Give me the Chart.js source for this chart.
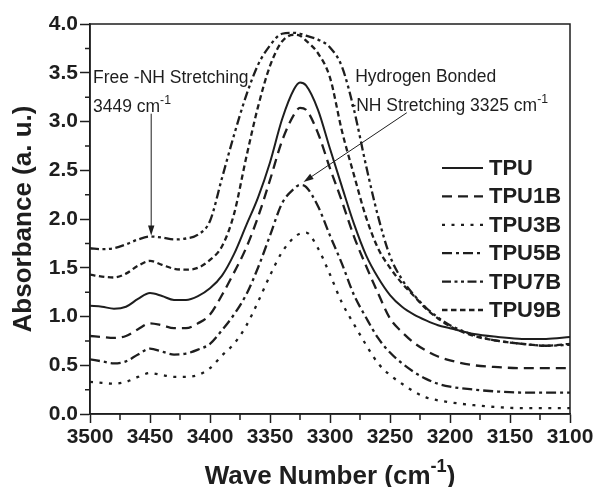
<!DOCTYPE html>
<html>
<head>
<meta charset="utf-8">
<script src="https://cdn.jsdelivr.net/npm/chart.js@4"></script>
<style>
  html, body { margin: 0; padding: 0; background: #fff; }
</style>
</head>
<body>
<canvas id="chart" width="596" height="487"></canvas>
<script>
'use strict';

// wave numbers (cm-1)
var waveNumbers = [3500, 3490, 3480, 3470, 3460, 3450, 3440, 3430, 3420, 3410, 3400, 3390, 3380, 3370, 3360, 3350, 3340, 3330, 3325,
    3320, 3310, 3300, 3290, 3280, 3270, 3260, 3250, 3240, 3230, 3220, 3210, 3200, 3180, 3160, 3140, 3120, 3100];

var tpu   = [1.11, 1.10, 1.08, 1.10, 1.18, 1.24, 1.21, 1.17, 1.17, 1.21, 1.29, 1.42, 1.64, 1.93, 2.22, 2.58, 3.02, 3.33, 3.40,
    3.37, 3.12, 2.72, 2.33, 1.95, 1.63, 1.40, 1.22, 1.10, 1.02, 0.96, 0.91, 0.88, 0.82, 0.79, 0.77, 0.77, 0.79];
var tpu1b = [0.80, 0.79, 0.78, 0.80, 0.87, 0.93, 0.91, 0.88, 0.88, 0.93, 1.02, 1.22, 1.45, 1.70, 2.02, 2.40, 2.80, 3.07, 3.14,
    3.12, 2.88, 2.52, 2.18, 1.82, 1.52, 1.24, 0.98, 0.84, 0.73, 0.65, 0.59, 0.55, 0.50, 0.48, 0.47, 0.47, 0.47];
var tpu3b = [0.33, 0.32, 0.31, 0.33, 0.38, 0.42, 0.40, 0.38, 0.38, 0.40, 0.47, 0.60, 0.72, 0.90, 1.15, 1.42, 1.66, 1.81, 1.85,
    1.86, 1.70, 1.43, 1.14, 0.92, 0.71, 0.52, 0.40, 0.31, 0.23, 0.17, 0.14, 0.12, 0.09, 0.07, 0.06, 0.06, 0.06];
var tpu5b = [0.56, 0.54, 0.52, 0.54, 0.61, 0.67, 0.64, 0.61, 0.62, 0.66, 0.72, 0.86, 1.02, 1.22, 1.50, 1.83, 2.16, 2.31, 2.35,
    2.33, 2.13, 1.83, 1.54, 1.22, 0.99, 0.78, 0.63, 0.52, 0.43, 0.36, 0.31, 0.28, 0.25, 0.23, 0.22, 0.22, 0.22];
var tpu7b = [1.70, 1.69, 1.70, 1.74, 1.79, 1.82, 1.81, 1.79, 1.80, 1.84, 1.98, 2.42, 2.86, 3.26, 3.58, 3.78, 3.90, 3.91, 3.90,
    3.88, 3.84, 3.76, 3.56, 3.12, 2.55, 2.03, 1.62, 1.38, 1.22, 1.09, 0.99, 0.91, 0.81, 0.75, 0.72, 0.70, 0.71];
var tpu9b = [1.43, 1.41, 1.40, 1.44, 1.52, 1.57, 1.53, 1.49, 1.48, 1.50, 1.58, 1.72, 2.05, 2.62, 3.15, 3.57, 3.82, 3.89, 3.88,
    3.83, 3.70, 3.45, 2.90, 2.45, 2.02, 1.70, 1.50, 1.34, 1.21, 1.08, 0.98, 0.90, 0.80, 0.75, 0.72, 0.70, 0.72];

var seriesNames = ['TPU', 'TPU1B', 'TPU3B', 'TPU5B', 'TPU7B', 'TPU9B'];
var seriesValues = [tpu, tpu1b, tpu3b, tpu5b, tpu7b, tpu9b];
var seriesDash = [[], [10, 6], [3, 6.5], [10, 4, 3, 4], [9, 3.5, 3, 3.5, 3, 3.5], [5.5, 3.5]];

var ink = '#1e1e1e';
var fontFamily = '"Liberation Sans", Arial, Helvetica, sans-serif';
Chart.defaults.font.family = fontFamily;
Chart.defaults.color = ink;

function isMajor(v, step) {
    var r = v / step;
    return Math.abs(r - Math.round(r)) < 1e-6;
}

function drawParts(ctx, parts, x, y, size, align) {
    // draws text with superscripts, parts = [[text, isSup, weight], ...]
    var w = 0;
    parts.forEach(function (p) {
        ctx.font = (p[2] || '') + ' ' + (p[1] ? size * 0.7 : size) + 'px ' + fontFamily;
        w += ctx.measureText(p[0]).width;
    });
    var cx = align === 'center' ? x - w / 2 : x;
    parts.forEach(function (p) {
        ctx.font = (p[2] || '') + ' ' + (p[1] ? size * 0.7 : size) + 'px ' + fontFamily;
        ctx.fillText(p[0], cx, p[1] ? y - size * 0.45 : y);
        cx += ctx.measureText(p[0]).width;
    });
}

function arrow(ctx, x1, y1, x2, y2) {
    var ang = Math.atan2(y2 - y1, x2 - x1);
    ctx.beginPath();
    ctx.moveTo(x1, y1);
    ctx.lineTo(x2 - Math.cos(ang) * 6, y2 - Math.sin(ang) * 6);
    ctx.stroke();
    ctx.beginPath();
    ctx.moveTo(x2, y2);
    ctx.lineTo(x2 - Math.cos(ang) * 10 + Math.sin(ang) * 3.2, y2 - Math.sin(ang) * 10 - Math.cos(ang) * 3.2);
    ctx.lineTo(x2 - Math.cos(ang) * 10 - Math.sin(ang) * 3.2, y2 - Math.sin(ang) * 10 + Math.cos(ang) * 3.2);
    ctx.closePath();
    ctx.fill();
}

var decor = {
    id: 'decor',
    afterDraw: function (chart) {
        var ctx = chart.ctx;
        var a = chart.chartArea;
        var xs = chart.scales.x;
        var ys = chart.scales.y;
        ctx.save();
        ctx.strokeStyle = ink;
        ctx.fillStyle = ink;

        // frame
        ctx.lineWidth = 1.5;
        ctx.strokeRect(a.left, a.top, a.right - a.left, a.bottom - a.top);

        // minor ticks
        ctx.beginPath();
        xs.ticks.forEach(function (t) {
            if (!isMajor(t.value, 50)) {
                var px = xs.getPixelForValue(t.value);
                ctx.moveTo(px, a.bottom);
                ctx.lineTo(px, a.bottom + 6);
            }
        });
        ys.ticks.forEach(function (t) {
            if (!isMajor(t.value, 0.5)) {
                var py = ys.getPixelForValue(t.value);
                ctx.moveTo(a.left, py);
                ctx.lineTo(a.left - 5, py);
            }
        });
        ctx.stroke();

        // axis titles
        ctx.textAlign = 'left';
        ctx.textBaseline = 'alphabetic';
        drawParts(ctx, [['Wave Number (cm', false, 'bold'], ['-1', true, 'bold'], [')', false, 'bold']],
            (a.left + a.right) / 2, 484, 26, 'center');
        ctx.save();
        ctx.translate(31, (a.top + a.bottom) / 2);
        ctx.rotate(-Math.PI / 2);
        ctx.textAlign = 'center';
        ctx.font = 'bold 26px ' + fontFamily;
        ctx.fillText('Absorbance (a. u.)', 0, 0);
        ctx.restore();

        // annotations
        ctx.textAlign = 'left';
        drawParts(ctx, [['Free -NH Stretching', false]], xs.getPixelForValue(3497.5), ys.getPixelForValue(3.40), 17.5);
        drawParts(ctx, [['3449 cm', false], ['-1', true]], xs.getPixelForValue(3497.5), ys.getPixelForValue(3.10), 17.5);
        drawParts(ctx, [['Hydrogen Bonded', false]], xs.getPixelForValue(3279), ys.getPixelForValue(3.41), 17.5);
        drawParts(ctx, [['-NH Stretching 3325 cm', false], ['-1', true]], xs.getPixelForValue(3283), ys.getPixelForValue(3.11), 17.5);
        ctx.lineWidth = 1;
        arrow(ctx, xs.getPixelForValue(3449), ys.getPixelForValue(3.08), xs.getPixelForValue(3449), ys.getPixelForValue(1.83));
        arrow(ctx, xs.getPixelForValue(3236), ys.getPixelForValue(3.09), xs.getPixelForValue(3322), ys.getPixelForValue(2.38));

        // legend
        ctx.font = 'bold 22px ' + fontFamily;
        ctx.textBaseline = 'middle';
        chart.data.datasets.forEach(function (ds, i) {
            var ly = a.top + 144 + i * 28.4;
            ctx.lineWidth = ds.borderWidth;
            ctx.setLineDash(ds.borderDash);
            ctx.beginPath();
            ctx.moveTo(a.right - 128, ly);
            ctx.lineTo(a.right - 87, ly);
            ctx.stroke();
            ctx.setLineDash([]);
            ctx.fillText(ds.label, a.right - 81, ly + 1);
        });
        ctx.restore();
    }
};

var datasets = seriesNames.map(function (name, i) {
    return {
        label: name,
        data: waveNumbers.map(function (w, j) { return { x: w, y: seriesValues[i][j] }; }),
        borderColor: ink,
        borderWidth: i === 0 ? 2 : 2.3,
        borderDash: seriesDash[i],
        pointRadius: 0,
        fill: false,
        cubicInterpolationMode: 'monotone'
    };
});

var chart = new Chart(document.getElementById('chart').getContext('2d'), {
    type: 'line',
    data: { datasets: datasets },
    options: {
        responsive: false,
        animation: false,
        layout: { padding: { top: 24, right: 26, left: 0, bottom: 0 } },
        plugins: { legend: { display: false }, tooltip: { enabled: false } },
        scales: {
            x: {
                type: 'linear',
                reverse: true,
                min: 3100,
                max: 3500,
                afterFit: function (s) { s.height = 73; },
                ticks: {
                    stepSize: 25,
                    autoSkip: false,
                    maxRotation: 0,
                    padding: 2,
                    color: ink,
                    font: { size: 21, weight: 'bold' },
                    callback: function (v) { return isMajor(v, 50) ? String(v) : ''; }
                },
                grid: {
                    drawOnChartArea: false,
                    tickLength: 9,
                    tickWidth: 1.5,
                    tickColor: function (c) { return c.tick && isMajor(c.tick.value, 50) ? ink : 'rgba(0,0,0,0)'; }
                },
                border: { color: ink, width: 1.5 }
            },
            y: {
                min: 0,
                max: 4,
                afterFit: function (s) { s.width = 90; },
                ticks: {
                    stepSize: 0.25,
                    autoSkip: false,
                    padding: 2,
                    color: ink,
                    font: { size: 21, weight: 'bold' },
                    callback: function (v) { return isMajor(v, 0.5) ? v.toFixed(1) : ''; }
                },
                grid: {
                    drawOnChartArea: false,
                    tickLength: 10,
                    tickWidth: 1.5,
                    tickColor: function (c) { return c.tick && isMajor(c.tick.value, 0.5) ? ink : 'rgba(0,0,0,0)'; }
                },
                border: { color: ink, width: 1.5 }
            }
        }
    },
    plugins: [decor]
});
</script>
</body>
</html>
